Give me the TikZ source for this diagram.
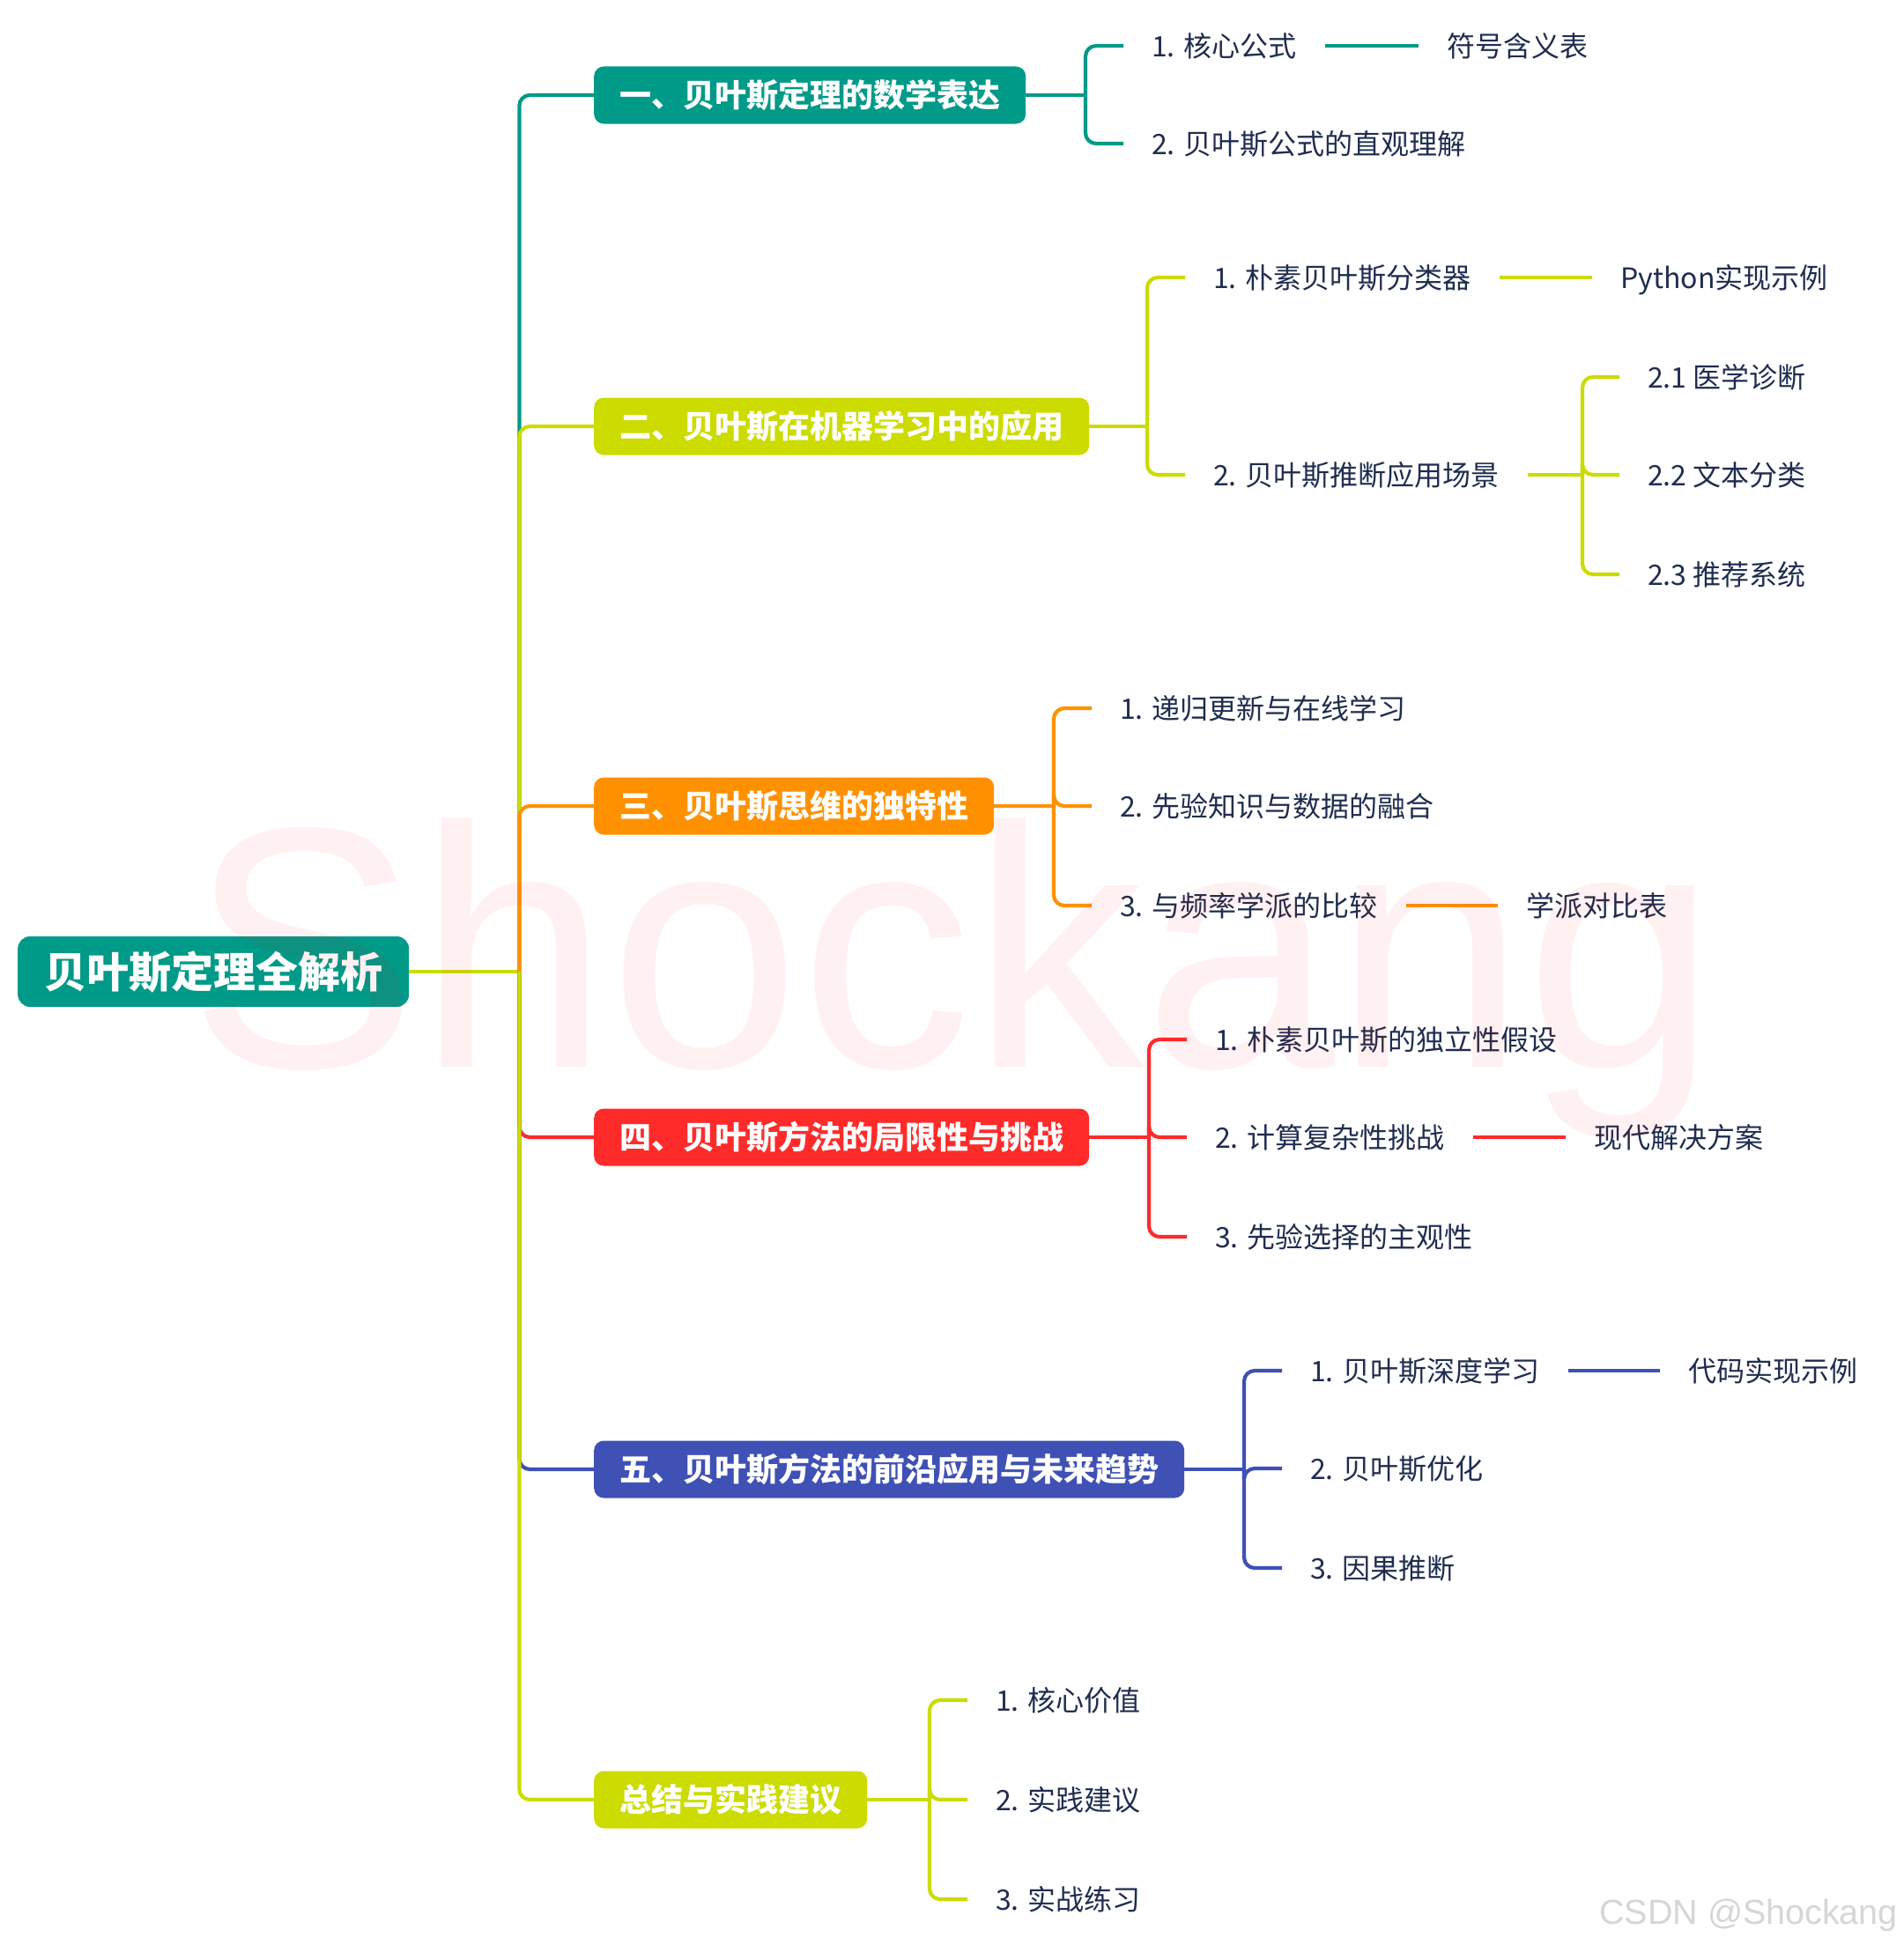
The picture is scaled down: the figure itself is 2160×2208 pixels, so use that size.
\documentclass[tikz,border=0pt]{standalone}
\usepackage{fontspec}
\newfontfamily\cjk{Noto Sans CJK SC}
\newfontfamily\wm{Liberation Sans}
\usetikzlibrary{calc}
\definecolor{cteal}{HTML}{009A88}
\definecolor{cyg}{HTML}{CCDC00}
\definecolor{corange}{HTML}{FF9100}
\definecolor{cred}{HTML}{FF2B2B}
\definecolor{cblue}{HTML}{3F51B5}
\definecolor{ctext}{HTML}{1F2D4F}
\tikzset{
  rootbox/.style={fill=cteal, rounded corners=14pt, text=white,
    font=\cjk\bfseries\fontsize{48}{52}\selectfont, inner xsep=30pt, inner ysep=0pt,
    minimum height=80pt, text height=37.4pt, text depth=1pt, anchor=west},
  branchbox/.style={fill=#1, rounded corners=11pt, text=white,
    font=\cjk\bfseries\fontsize{36}{40}\selectfont, inner xsep=29pt, inner ysep=0pt,
    minimum height=65pt, text height=28pt, text depth=0.8pt, anchor=west},
  leaf/.style={text=ctext, font=\cjk\fontsize{32}{36}\selectfont, inner xsep=32pt,
    inner ysep=0pt, text height=25pt, text depth=0.6pt, anchor=west},
  link/.style={draw=#1, line width=4.2pt, rounded corners=12pt},
}
\begin{document}
\begin{tikzpicture}[x=1pt,y=-1pt]
\useasboundingbox (0,0) rectangle (2160,2208);
\fill[white] (0,0) rectangle (2160,2208);

% nodes
\node[rootbox] (root) at (20,1103) {贝叶斯定理全解析};
\node[branchbox=cteal]   (b1) at (674,108)  {一、贝叶斯定理的数学表达};
\node[branchbox=cyg]     (b2) at (674,484)  {二、贝叶斯在机器学习中的应用};
\node[branchbox=corange] (b3) at (674,915)  {三、贝叶斯思维的独特性};
\node[branchbox=cred]    (b4) at (674,1291) {四、贝叶斯方法的局限性与挑战};
\node[branchbox=cblue]   (b5) at (674,1668) {五、贝叶斯方法的前沿应用与未来趋势};
\node[branchbox=cyg]     (b6) at (674,2043) {总结与实践建议};

\node[leaf] (c11) at (1275,52)  {1. 核心公式};
\node[leaf] (c12) at (1275,163) {2. 贝叶斯公式的直观理解};
\node[leaf] (g11) at (1610,52)  {符号含义表};

\node[leaf] (c21) at (1345,315) {1. 朴素贝叶斯分类器};
\node[leaf] (c22) at (1345,539) {2. 贝叶斯推断应用场景};
\node[leaf] (g21) at (1807,315) {Python实现示例};
\node[leaf] (d1) at (1838,428) {2.1 医学诊断};
\node[leaf] (d2) at (1838,539) {2.2 文本分类};
\node[leaf] (d3) at (1838,652) {2.3 推荐系统};

\node[leaf] (c31) at (1239,804)  {1. 递归更新与在线学习};
\node[leaf] (c32) at (1239,915)  {2. 先验知识与数据的融合};
\node[leaf] (c33) at (1239,1028) {3. 与频率学派的比较};
\node[leaf] (g33) at (1700,1028) {学派对比表};

\node[leaf] (c41) at (1347,1180) {1. 朴素贝叶斯的独立性假设};
\node[leaf] (c42) at (1347,1291) {2. 计算复杂性挑战};
\node[leaf] (c43) at (1347,1404) {3. 先验选择的主观性};
\node[leaf] (g42) at (1777,1291) {现代解决方案};

\node[leaf] (c51) at (1455,1556) {1. 贝叶斯深度学习};
\node[leaf] (c52) at (1455,1667) {2. 贝叶斯优化};
\node[leaf] (c53) at (1455,1780) {3. 因果推断};
\node[leaf] (g51) at (1884,1556) {代码实现示例};

\node[leaf] (c61) at (1098,1930) {1. 核心价值};
\node[leaf] (c62) at (1098,2043) {2. 实践建议};
\node[leaf] (c63) at (1098,2156) {3. 实战练习};

% junctions
\coordinate (J) at ([xshift=125pt]root.east);
\coordinate (k1) at ([xshift=-43pt]c11.west |- b1.east);
\coordinate (k2) at ([xshift=-43pt]c21.west |- b2.east);
\coordinate (k22) at ([xshift=-42pt]d1.west |- c22.east);
\coordinate (k3) at ([xshift=-43pt]c31.west |- b3.east);
\coordinate (k4) at ([xshift=-43pt]c41.west |- b4.east);
\coordinate (k5) at ([xshift=-43pt]c51.west |- b5.east);
\coordinate (k6) at ([xshift=-43pt]c61.west |- b6.east);

% trunk
\draw[link=cyg] (root.east) -- (J);
\draw[link=cteal] (J) |- (b1.west);
\draw[link=cyg] (J) |- (b2.west);
\draw[link=corange] (J) |- (b3.west);
\draw[link=cred] (J) |- (b4.west);
\draw[link=cblue] (J) |- (b5.west);
\draw[link=cyg] (J) |- (b6.west);

% branch 1
\draw[link=cteal] (b1.east) -- (k1);
\draw[link=cteal] (k1) |- (c11.west);
\draw[link=cteal] (k1) |- (c12.west);
\draw[link=cteal] (c11.east) -- (g11.west);

% branch 2
\draw[link=cyg] (b2.east) -- (k2);
\draw[link=cyg] (k2) |- (c21.west);
\draw[link=cyg] (k2) |- (c22.west);
\draw[link=cyg] (c21.east) -- (g21.west);
\draw[link=cyg] (c22.east) -- (k22);
\draw[link=cyg] (k22) |- (d1.west);
\draw[link=cyg] (k22) |- (d2.west);
\draw[link=cyg] (k22) |- (d3.west);

% branch 3
\draw[link=corange] (b3.east) -- (k3);
\draw[link=corange] (k3) |- (c31.west);
\draw[link=corange] (k3) |- (c32.west);
\draw[link=corange] (k3) |- (c33.west);
\draw[link=corange] (c33.east) -- (g33.west);

% branch 4
\draw[link=cred] (b4.east) -- (k4);
\draw[link=cred] (k4) |- (c41.west);
\draw[link=cred] (k4) |- (c42.west);
\draw[link=cred] (k4) |- (c43.west);
\draw[link=cred] (c42.east) -- (g42.west);

% branch 5
\draw[link=cblue] (b5.east) -- (k5);
\draw[link=cblue] (k5) |- (c51.west);
\draw[link=cblue] (k5) |- (c52.west);
\draw[link=cblue] (k5) |- (c53.west);
\draw[link=cblue] (c51.east) -- (g51.west);

% branch 6
\draw[link=cyg] (b6.east) -- (k6);
\draw[link=cyg] (k6) |- (c61.west);
\draw[link=cyg] (k6) |- (c62.west);
\draw[link=cyg] (k6) |- (c63.west);

% watermarks
\node[font=\wm\fontsize{390}{390}\selectfont, text=red, text opacity=0.055,
  anchor=base west, inner sep=0pt] (wmark) at (214,1211) {Shockang};
\node[font=\wm\fontsize{39.5}{42}\selectfont, text=black!16,
  anchor=base west, inner sep=0pt] (csdn) at (1815,2184) {CSDN @Shockang};
\end{tikzpicture}
\end{document}
